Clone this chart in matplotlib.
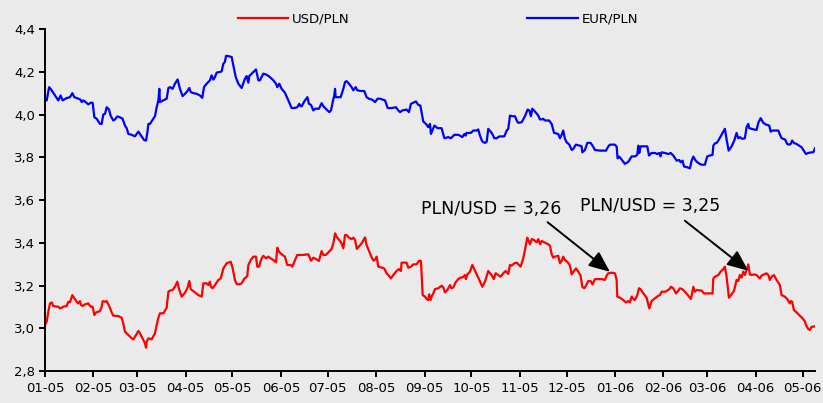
import numpy as np
import pandas as pd
import matplotlib
matplotlib.use("Agg")
import matplotlib.pyplot as plt
import matplotlib.dates as mdates
from matplotlib.ticker import FuncFormatter, MultipleLocator

# days counted from 2005-01-01
usd_days = [
    0, 1.1, 2.1, 3.2, 4.3, 5.3, 7.5, 8.5, 9.6, 10.7,
    11.7, 13.9, 14.9, 16.0, 17.5, 18.8, 20.3, 21.3, 22.4, 23.0,
    24.1, 25.6, 27.7, 29.2, 30.5, 31.6, 32.7, 35.2, 36.3, 36.9,
    38.4, 39.5, 41.0, 42.7, 43.7, 46.9, 49.1, 50.1, 51.2, 53.4,
    55.5, 56.6, 57.6, 59.8, 60.8, 63.0, 64.0, 64.7, 65.1, 66.2,
    68.3, 70.4, 71.5, 72.6, 73.6, 75.8, 77.9, 79.0, 80.0, 81.7,
    83.2, 84.7, 86.0, 87.5, 89.6, 91.3, 92.4, 93.3, 95.4, 98.2,
    100.3, 101.4, 103.5, 104.6, 105.6, 106.3, 107.3, 108.8, 111.0, 112.5,
    114.2, 116.3, 118.9, 120.1, 121.6, 122.7, 124.4, 125.9, 127.4, 129.5,
    130.2, 131.7, 133.4, 135.1, 135.9, 137.0, 138.7, 139.8, 141.5, 143.0,
    144.5, 146.2, 147.9, 148.7, 149.8, 151.5, 153.6, 155.1, 157.3, 158.3,
    160.1, 161.5, 163.3,
    165.4, 168.6, 170.3, 171.8, 173.9, 175.4, 177.1, 178.2, 179.7, 181.4,
    183.5, 184.6, 185.7, 186.7, 188.9, 189.9, 191.0, 192.1, 193.1, 194.6,
    196.3, 197.4, 198.5, 199.7, 201.0, 202.7, 204.9, 205.9, 207.4, 209.1,
    210.4, 211.7, 212.3, 213.4, 215.1, 217.2, 218.7, 219.8, 221.5, 223.0,
    225.1, 226.6, 227.9, 228.3, 230.5, 231.5, 232.6, 234.3, 235.8, 237.9,
    239.4, 240.7, 241.8, 243.3, 244.3, 245.4, 246.0, 246.9, 247.5, 248.6,
    249.7, 251.8, 253.9, 255.0, 256.1, 257.6, 259.3, 260.3, 261.4, 262.9,
    264.6, 266.1, 267.4, 268.9, 269.5, 270.4, 272.1, 273.6, 274.6, 276.4,
    278.1, 280.0, 281.7, 283.8, 284.9, 285.9, 287.4, 288.5, 290.2, 291.7,
    293.4, 294.9, 296.6, 297.7, 298.8, 300.5, 302.0, 304.5, 306.2, 307.3,
    308.8, 310.5, 311.6, 313.1, 314.8, 315.8, 316.9, 318.0, 319.7, 322.2,
    323.3, 324.4, 325.4,
    326.5, 328.6, 329.7, 330.8, 331.8, 332.9, 334.4, 335.7, 336.5, 337.2,
    338.7, 340.0, 341.4, 342.9, 344.0, 345.3, 346.8, 347.8, 349.3, 350.6,
    352.1, 354.2, 356.4, 358.5, 359.6, 360.6, 362.8, 364.9, 366.0, 366.4,
    368.1, 370.2, 372.0, 373.4, 374.5, 375.6, 376.6, 377.7, 379.2, 380.3,
    381.3, 383.1, 385.2, 386.3, 386.9, 388.4, 390.5, 392.7, 393.7, 394.8,
    396.9, 398.0, 399.7, 400.8, 402.3, 404.0, 405.0, 406.5, 408.0, 409.7,
    411.9, 413.6, 415.1, 416.1, 417.2, 420.4, 421.9, 424.7, 427.4, 427.9,
    428.9, 431.1, 432.6, 434.3, 435.3, 436.4, 437.9, 439.6, 441.1, 442.8,
    443.9, 444.9, 446.0, 447.1, 448.1, 449.2, 450.3, 451.3, 452.4, 453.9,
    455.6, 456.7, 457.7, 458.8, 460.3, 462.0, 463.1, 464.1, 465.2, 466.7,
    468.4, 470.5, 471.6, 473.7, 475.2, 476.9, 477.6, 478.4, 479.5, 481.2,
    482.9, 485.1, 486.6, 487.2, 488.7, 489.8, 490.8, 491.9, 493.0,
]
usd_pln = [
    3.015, 3.031, 3.077, 3.116, 3.121, 3.104, 3.101, 3.101, 3.093, 3.096,
    3.101, 3.104, 3.124, 3.121, 3.155, 3.140, 3.124, 3.116, 3.127, 3.109,
    3.104, 3.112, 3.116, 3.101, 3.101, 3.062, 3.074, 3.080, 3.101, 3.127,
    3.124, 3.127, 3.105, 3.074, 3.059, 3.057, 3.049, 3.023, 2.984, 2.968,
    2.953, 2.948, 2.960, 2.987, 2.976, 2.945, 2.929, 2.909, 2.937, 2.953,
    2.948, 2.976, 3.015, 3.049, 3.070, 3.070, 3.096, 3.171, 3.176, 3.179,
    3.194, 3.218, 3.179, 3.148, 3.166, 3.190, 3.221, 3.183, 3.171, 3.155,
    3.148, 3.210, 3.210, 3.202, 3.218, 3.194, 3.187, 3.202, 3.226, 3.233,
    3.280, 3.304, 3.311, 3.283, 3.226, 3.207, 3.205, 3.210, 3.230, 3.244,
    3.296, 3.319, 3.335, 3.335, 3.288, 3.288, 3.327, 3.339, 3.327, 3.335,
    3.327, 3.319, 3.308, 3.377, 3.358, 3.346, 3.335, 3.296, 3.296, 3.288,
    3.319, 3.343, 3.343,
    3.343, 3.346, 3.316, 3.330, 3.322, 3.315, 3.361, 3.343, 3.343, 3.355,
    3.371, 3.397, 3.444, 3.428, 3.408, 3.397, 3.374, 3.436, 3.436, 3.424,
    3.417, 3.424, 3.413, 3.371, 3.382, 3.397, 3.425, 3.389, 3.363, 3.332,
    3.316, 3.324, 3.335, 3.288, 3.285, 3.280, 3.257, 3.249, 3.233, 3.249,
    3.268, 3.277, 3.268, 3.307, 3.307, 3.307, 3.283, 3.288, 3.299, 3.299,
    3.315, 3.315, 3.155, 3.148, 3.137, 3.132, 3.159, 3.132, 3.148, 3.163,
    3.183, 3.187, 3.199, 3.191, 3.168, 3.179, 3.202, 3.187, 3.191, 3.215,
    3.230, 3.237, 3.238, 3.249, 3.230, 3.252, 3.265, 3.296, 3.280, 3.252,
    3.226, 3.194, 3.218, 3.268, 3.257, 3.249, 3.230, 3.257, 3.249, 3.241,
    3.257, 3.268, 3.254, 3.296, 3.293, 3.304, 3.307, 3.288, 3.327, 3.366,
    3.424, 3.393, 3.417, 3.413, 3.402, 3.417, 3.393, 3.408, 3.402, 3.393,
    3.386, 3.346, 3.330,
    3.335, 3.339, 3.304, 3.315, 3.335, 3.319, 3.311, 3.299, 3.280, 3.252,
    3.268, 3.280, 3.265, 3.246, 3.194, 3.187, 3.205, 3.221, 3.221, 3.205,
    3.230, 3.230, 3.230, 3.226, 3.246, 3.257, 3.260, 3.257, 3.226, 3.148,
    3.143, 3.132, 3.121, 3.127, 3.121, 3.148, 3.137, 3.132, 3.155, 3.187,
    3.183, 3.163, 3.143, 3.109, 3.093, 3.127, 3.140, 3.152, 3.155, 3.171,
    3.171, 3.174, 3.183, 3.194, 3.187, 3.163, 3.171, 3.187, 3.183, 3.171,
    3.152, 3.137, 3.194, 3.171, 3.179, 3.176, 3.163, 3.163, 3.163, 3.233,
    3.241, 3.249, 3.265, 3.277, 3.288, 3.241, 3.143, 3.159, 3.174, 3.226,
    3.221, 3.249, 3.237, 3.265, 3.249, 3.272, 3.299, 3.252, 3.249, 3.252,
    3.249, 3.241, 3.233, 3.246, 3.252, 3.257, 3.249, 3.226, 3.241, 3.249,
    3.226, 3.202, 3.155, 3.148, 3.137, 3.116, 3.127, 3.124, 3.085, 3.074,
    3.062, 3.046, 3.031, 3.015, 2.996, 2.992, 3.007, 3.007, 3.010,
]

eur_days = [
    0, 1.1, 2.6, 3.6, 6.4, 8.5, 10.0, 11.3, 13.9, 16.0,
    17.5, 18.8, 21.3, 22.8, 23.5, 24.5, 25.6, 27.7, 29.2, 30.5,
    31.6, 33.1, 35.2, 36.3, 37.3, 38.4, 39.5, 41.0, 42.0, 43.7,
    44.8, 46.3, 48.0, 49.7, 51.2, 52.3, 53.4, 55.5, 57.6, 59.8,
    61.5, 63.4, 64.7, 65.5, 66.2, 67.2, 70.4, 71.5, 72.6, 73.2,
    73.6, 75.8, 77.9, 79.0, 80.0, 81.7, 83.2, 84.9, 86.4, 88.1,
    90.7, 92.4, 93.3, 95.0, 97.1, 99.2, 100.7, 101.8, 103.5, 105.6,
    106.7, 107.8, 108.8, 109.9, 112.0, 113.1, 114.2, 115.2, 115.9, 116.9,
    119.5, 120.6, 122.1, 123.8, 125.9, 128.0, 129.1, 130.2, 130.8, 133.4,
    135.1, 136.6, 137.6, 139.8, 141.9, 144.0, 146.2, 147.9, 148.7, 150.0,
    151.5, 153.6, 155.8, 157.9, 160.1, 161.5, 162.8, 163.3,
    164.3, 166.0, 168.0, 169.0, 170.3, 171.8, 172.9, 175.4, 177.1, 178.2,
    180.3, 182.0, 183.1, 184.2, 185.2, 185.7, 186.1, 189.3, 191.0, 192.1,
    193.1, 194.6, 196.3, 197.4, 198.9, 200.0, 202.3, 204.4, 205.9, 207.4,
    209.6, 211.3, 213.0, 214.5, 216.6, 217.7, 219.4, 221.9, 224.7, 226.2,
    227.3, 228.8, 231.5, 233.0, 234.3, 235.8, 237.5, 239.0, 240.3, 242.2,
    243.9, 245.4, 246.5, 247.1, 248.0, 249.3, 251.4, 253.9, 255.7, 258.2,
    259.9, 262.1, 264.6, 265.7, 267.2, 268.5, 269.3, 269.9, 272.7, 274.2,
    276.4, 277.4, 278.5, 280.0, 281.7, 282.8, 283.8, 286.0, 287.7, 289.2,
    290.7, 294.1, 295.6, 296.6, 297.7, 298.8, 300.9, 302.0, 303.0, 305.2,
    307.3, 309.0, 310.1, 311.1, 312.0, 313.7, 315.8, 316.9, 318.0, 319.0,
    320.1, 322.7,
    324.4, 325.9, 328.6, 329.7, 330.8, 331.8, 332.9, 334.0, 335.7, 337.2,
    338.2, 339.9, 342.5, 343.6, 344.0, 345.7, 347.2, 349.3, 350.6, 352.1,
    355.3, 359.2, 360.6, 361.7, 364.9, 366.0, 366.6, 367.7, 369.2, 371.3,
    373.5, 375.6, 377.7, 379.2, 379.9, 380.5, 381.3, 383.5, 385.6, 386.7,
    388.4, 390.5, 392.0, 393.3, 394.1, 394.8, 396.9, 399.1, 400.6, 402.3,
    404.4, 406.1, 407.0, 408.2, 409.1, 411.2, 412.9, 414.0, 415.1, 416.6,
    418.3, 420.4, 422.5, 424.0, 425.7, 427.4, 427.9, 428.9, 430.0, 431.1,
    432.6, 434.3, 435.3, 436.4, 437.7, 439.6, 441.3, 442.8, 443.9, 444.9,
    446.4, 448.1, 449.2, 450.3, 450.9, 452.4, 453.9, 455.6, 456.7, 458.2,
    459.9, 461.6, 463.7, 464.6, 465.9, 469.5, 470.6, 471.6, 473.8, 475.2,
    476.5, 477.4, 478.4, 479.5, 481.2, 482.9, 484.4, 487.2, 488.7, 490.8,
    491.9, 493.0,
]
eur_pln = [
    4.066, 4.066, 4.128, 4.120, 4.089, 4.066, 4.089, 4.066, 4.077, 4.081,
    4.100, 4.081, 4.074, 4.069, 4.058, 4.066, 4.061, 4.047, 4.055, 4.055,
    3.987, 3.980, 3.956, 3.956, 4.000, 4.003, 4.034, 4.023, 3.995, 3.972,
    3.977, 3.991, 3.987, 3.980, 3.948, 3.936, 3.909, 3.905, 3.898, 3.920,
    3.901, 3.881, 3.878, 3.914, 3.956, 3.956, 3.992, 4.034, 4.066, 4.120,
    4.058, 4.066, 4.074, 4.124, 4.128, 4.120, 4.144, 4.164, 4.120, 4.086,
    4.105, 4.124, 4.105, 4.100, 4.097, 4.089, 4.078, 4.128, 4.144, 4.160,
    4.183, 4.163, 4.175, 4.196, 4.199, 4.202, 4.238, 4.246, 4.274, 4.274,
    4.269, 4.230, 4.175, 4.144, 4.124, 4.167, 4.180, 4.149, 4.180, 4.199,
    4.211, 4.160, 4.160, 4.191, 4.186, 4.175, 4.160, 4.144, 4.128, 4.144,
    4.120, 4.102, 4.066, 4.030, 4.031, 4.034, 4.050, 4.042,
    4.038, 4.061, 4.081, 4.050, 4.045, 4.019, 4.027, 4.027, 4.053, 4.039,
    4.023, 4.011, 4.019, 4.058, 4.089, 4.120, 4.081, 4.081, 4.120, 4.152,
    4.156, 4.144, 4.128, 4.113, 4.128, 4.113, 4.110, 4.110, 4.081, 4.074,
    4.069, 4.058, 4.074, 4.074, 4.069, 4.066, 4.030, 4.030, 4.034, 4.019,
    4.011, 4.019, 4.023, 4.011, 4.050, 4.055, 4.061, 4.045, 4.042, 3.967,
    3.956, 3.941, 3.956, 3.909, 3.925, 3.948, 3.936, 3.936, 3.889, 3.894,
    3.889, 3.905, 3.905, 3.901, 3.894, 3.909, 3.901, 3.914, 3.914, 3.925,
    3.925, 3.930, 3.901, 3.873, 3.867, 3.873, 3.933, 3.914, 3.889, 3.889,
    3.897, 3.898, 3.925, 3.933, 3.995, 3.992, 3.992, 3.972, 3.961, 3.964,
    3.992, 4.023, 4.019, 3.992, 4.027, 4.014, 3.995, 3.977, 3.977, 3.980,
    3.972, 3.972,
    3.956, 3.914, 3.909, 3.889, 3.905, 3.925, 3.886, 3.870, 3.859, 3.834,
    3.839, 3.859, 3.854, 3.851, 3.823, 3.834, 3.867, 3.867, 3.854, 3.834,
    3.831, 3.831, 3.850, 3.859, 3.859, 3.850, 3.795, 3.803, 3.789, 3.769,
    3.779, 3.804, 3.804, 3.811, 3.854, 3.820, 3.851, 3.851, 3.851, 3.808,
    3.820, 3.820, 3.815, 3.820, 3.804, 3.823, 3.820, 3.815, 3.820, 3.808,
    3.784, 3.787, 3.776, 3.784, 3.757, 3.753, 3.748, 3.784, 3.803, 3.784,
    3.773, 3.765, 3.765, 3.804, 3.808, 3.811, 3.854, 3.865, 3.867, 3.878,
    3.898, 3.920, 3.933, 3.883, 3.831, 3.851, 3.878, 3.914, 3.889, 3.894,
    3.886, 3.889, 3.941, 3.956, 3.936, 3.933, 3.930, 3.928, 3.961, 3.983,
    3.961, 3.953, 3.948, 3.920, 3.925, 3.925, 3.905, 3.889, 3.883, 3.862,
    3.859, 3.862, 3.878, 3.867, 3.862, 3.854, 3.847, 3.815, 3.820, 3.823,
    3.823, 3.842,
]

notes = ["PLN/USD = 3,26", "PLN/USD = 3,25"]

start = pd.Timestamp("2005-01-01")


def to_dates(days):
    return start + pd.to_timedelta(np.array(days), unit="D")


bg = "#eaeaea"
fig = plt.figure(figsize=(8.23, 4.03), dpi=100, facecolor=bg)
ax = fig.add_axes([45 / 823, 32 / 403, 770 / 823, 342 / 403], facecolor=bg)

ax.plot(to_dates(usd_days), usd_pln, color="#ff0000", lw=1.6, label="USD/PLN")
ax.plot(to_dates(eur_days), eur_pln, color="#0000ff", lw=1.6, label="EUR/PLN")

ax.set_xlim(start, start + pd.Timedelta(days=493))
ax.set_ylim(2.8, 4.4)
ax.yaxis.set_major_locator(MultipleLocator(0.2))
ax.yaxis.set_major_formatter(FuncFormatter(lambda v, p: f"{v:.1f}".replace(".", ",")))
ax.xaxis.set_major_locator(mdates.MonthLocator())
ax.xaxis.set_major_formatter(mdates.DateFormatter("%m-%y"))

for side in ["top", "right"]:
    ax.spines[side].set_visible(False)
for side in ["left", "bottom"]:
    ax.spines[side].set_linewidth(1.4)
ax.tick_params(axis="both", direction="out", length=4, width=1.4,
               labelsize=9.5, colors="black")
ax.tick_params(axis="x", pad=4)
ax.tick_params(axis="y", pad=3)

# annotations: text, arrow tail, arrow tip (day offset, rate)
arrow_style = dict(arrowstyle="-|>,head_length=0.4,head_width=0.17",
                   mutation_scale=32, lw=1.4, color="black",
                   shrinkA=0, shrinkB=0)
spots = [((285.4, 3.559), (321.8, 3.496), (361.7, 3.264)),
         ((387.3, 3.570), (409.7, 3.503), (450.3, 3.269))]
for label, (txt, tail, tip) in zip(notes, spots):
    ax.text(start + pd.Timedelta(days=txt[0]), txt[1], label,
            fontsize=12.5, ha="center", va="center")
    ax.annotate("", xy=(start + pd.Timedelta(days=tip[0]), tip[1]),
                xytext=(start + pd.Timedelta(days=tail[0]), tail[1]),
                arrowprops=arrow_style)

fig.legend(loc="center", bbox_to_anchor=(0.532, 0.953), ncol=2, frameon=False,
           fontsize=9.5, handlelength=3.8, columnspacing=13.5, handletextpad=0.3)

fig.savefig("out.png", dpi=100, facecolor=bg)
